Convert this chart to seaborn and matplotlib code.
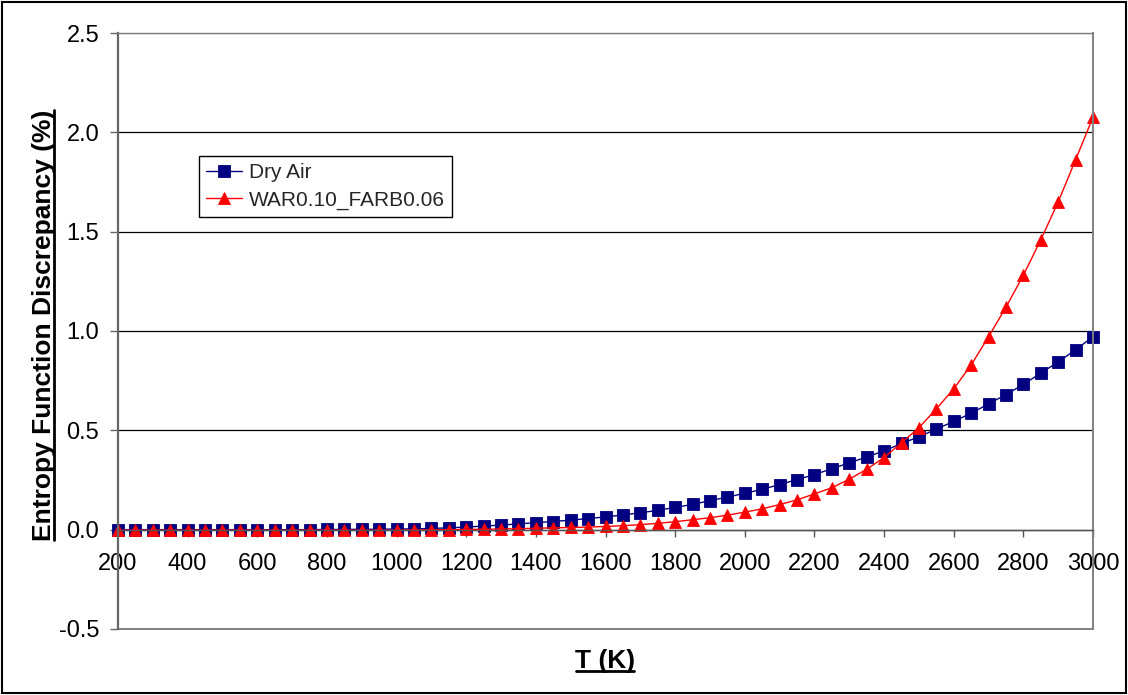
import matplotlib
matplotlib.use("Agg")
import matplotlib.pyplot as plt
from matplotlib.lines import Line2D
from matplotlib.patches import Rectangle
import pandas as pd
import seaborn as sns

# Temperature grid (K)
temperature = [200, 250, 300, 350, 400, 450, 500, 550, 600, 650,
               700, 750, 800, 850, 900, 950, 1000, 1050, 1100, 1150,
               1200, 1250, 1300, 1350, 1400, 1450, 1500, 1550, 1600, 1650,
               1700, 1750, 1800, 1850, 1900, 1950, 2000, 2050, 2100, 2150,
               2200, 2250, 2300, 2350, 2400, 2450, 2500, 2550, 2600, 2650,
               2700, 2750, 2800, 2850, 2900, 2950, 3000]

# Entropy function discrepancy (%) for dry air
dry_air = [0.000, 0.000, 0.000, 0.000, 0.000, 0.000, 0.000, 0.000, 0.000, 0.000,
           0.000, 0.000, 0.001, 0.001, 0.002, 0.002, 0.003, 0.004, 0.006, 0.009,
           0.013, 0.018, 0.023, 0.029, 0.035, 0.041, 0.048, 0.056, 0.064, 0.074,
           0.085, 0.097, 0.112, 0.127, 0.146, 0.164, 0.183, 0.203, 0.227, 0.252,
           0.277, 0.307, 0.336, 0.366, 0.396, 0.434, 0.467, 0.506, 0.545, 0.586,
           0.633, 0.680, 0.731, 0.788, 0.844, 0.906, 0.971]

# Entropy function discrepancy (%) for WAR = 0.10, FAR(B) = 0.06
war_farb = [-0.003, -0.003, -0.003, -0.003, -0.003, -0.003, -0.003, -0.003, -0.003, -0.003,
            -0.003, -0.003, -0.003, -0.003, -0.003, -0.003, -0.003, -0.002, -0.001, 0.000,
            0.001, 0.002, 0.003, 0.005, 0.007, 0.009, 0.011, 0.013, 0.016, 0.020,
            0.025, 0.032, 0.040, 0.050, 0.060, 0.073, 0.088, 0.105, 0.126, 0.150,
            0.180, 0.211, 0.254, 0.304, 0.363, 0.437, 0.513, 0.608, 0.709, 0.829,
            0.971, 1.120, 1.281, 1.459, 1.650, 1.862, 2.077]

series_names = ["Dry Air", "WAR0.10_FARB0.06"]
x_ticks = [200, 400, 600, 800, 1000, 1200, 1400, 1600, 1800, 2000,
           2200, 2400, 2600, 2800, 3000]
y_ticks = [-0.5, 0.0, 0.5, 1.0, 1.5, 2.0, 2.5]
x_title = "T (K)"
y_title = "Entropy Function Discrepancy (%)"

df = pd.DataFrame({"T": temperature, series_names[0]: dry_air, series_names[1]: war_farb})

sns.set_theme(style="white")
plt.rcParams["font.family"] = ["Liberation Sans", "DejaVu Sans"]
plt.rcParams["axes.unicode_minus"] = False

fig = plt.figure(figsize=(11.28, 6.95), dpi=100)
fig.patch.set_facecolor("white")
ax = fig.add_axes([0.1046, 0.095, 0.8644, 0.8575])
ax.set_facecolor("white")

sns.lineplot(data=df, x="T", y=series_names[0], ax=ax, color="#000080",
             marker="s", markersize=8.0, markeredgewidth=0.6,
             markeredgecolor="#000080", linewidth=1.0, label=series_names[0],
             clip_on=False)
sns.lineplot(data=df, x="T", y=series_names[1], ax=ax, color="#FF0000",
             marker="^", markersize=9.0, markeredgewidth=0.6,
             markeredgecolor="#FF0000", linewidth=1.0, label=series_names[1],
             clip_on=False)

ax.set_xlim(x_ticks[0], x_ticks[-1])
ax.set_ylim(y_ticks[0], y_ticks[-1])
ax.set_xticks(x_ticks)
ax.set_yticks(y_ticks)
ax.set_xticklabels([str(t) for t in x_ticks])
ax.set_yticklabels([f"{v:.1f}" for v in y_ticks])

# horizontal gridlines: black inside, grey at the plot-area edges
ax.yaxis.grid(True, color="black", linewidth=0.9)
ax.xaxis.grid(False)
for v, gl in zip(y_ticks, ax.get_ygridlines()):
    if v in (y_ticks[0], y_ticks[-1]):
        gl.set_color("#808080")
ax.set_axisbelow(True)

grey = "#808080"
ax.spines["bottom"].set_position(("data", 0.0))
ax.spines["bottom"].set_color("#555555")
ax.spines["bottom"].set_linewidth(1.0)
ax.spines["left"].set_color("#666666")
ax.spines["left"].set_linewidth(1.6)
ax.spines["top"].set_color(grey)
ax.spines["right"].set_color(grey)
ax.spines["top"].set_linewidth(1.0)
ax.spines["right"].set_linewidth(1.4)
ax.add_line(Line2D([0, 1], [0, 0], transform=ax.transAxes, color=grey,
                   linewidth=1.4, clip_on=False))

ax.tick_params(axis="x", direction="out", length=5, width=1, color="#555555",
               pad=12, labelsize=17, labelcolor="black", bottom=True)
ax.tick_params(axis="y", direction="out", length=5.5, width=1, color="#666666",
               pad=8, labelsize=17, labelcolor="black", left=True)

ax.set_xlabel(x_title, fontsize=19, fontweight="bold", color="black")
ax.set_ylabel(y_title, fontsize=19, fontweight="bold", color="black")
ax.xaxis.set_label_coords(0.4995, -0.034)
ax.yaxis.set_label_coords(-0.0636, 0.51)

leg = ax.legend(loc="upper left", bbox_to_anchor=(0.083, 0.7936), fontsize=15,
                frameon=True, fancybox=False, framealpha=1, edgecolor="black",
                handlelength=1.7, handletextpad=0.35, labelspacing=0.4,
                borderpad=0.35, borderaxespad=0.0)
leg.get_frame().set_linewidth(1.0)

# underline the axis titles
fig.canvas.draw()
renderer = fig.canvas.get_renderer()
inv = fig.transFigure.inverted()
bx = ax.xaxis.label.get_window_extent(renderer)
(x0, y0), (x1, _) = inv.transform([(bx.x0 + 1, bx.y0 + 2), (bx.x1 - 1, bx.y0 + 2)])
fig.add_artist(Line2D([x0, x1], [y0, y0], transform=fig.transFigure,
                      color="black", linewidth=2.0))
by = ax.yaxis.label.get_window_extent(renderer)
(ux, uy0), (_, uy1) = inv.transform([(by.x1 - 2, by.y0 + 1), (by.x1 - 2, by.y1 - 1)])
fig.add_artist(Line2D([ux, ux], [uy0, uy1], transform=fig.transFigure,
                      color="black", linewidth=2.0))

# outer frame of the figure
fig.add_artist(Rectangle((0.002, 0.003), 0.996, 0.994, transform=fig.transFigure,
                         fill=False, edgecolor="black", linewidth=1.5))

fig.savefig("out.png", dpi=100)
